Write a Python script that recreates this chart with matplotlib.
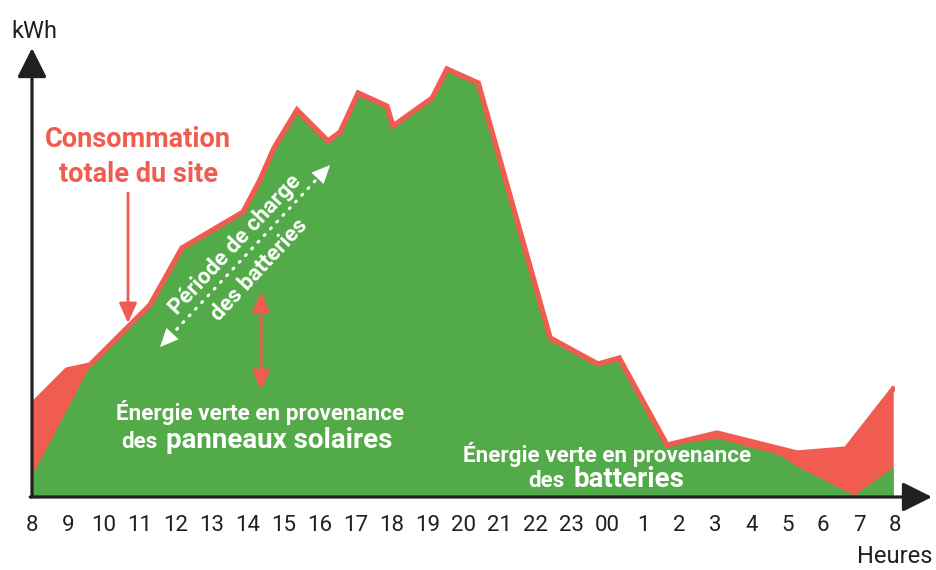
import matplotlib
matplotlib.use("Agg")
import matplotlib.pyplot as plt

plt.rcParams['font.family'] = ['Roboto', 'DejaVu Sans']

GREEN = '#53aa48'
RED = '#f05c50'
INK = '#231f20'

# hour labels, 8h -> 8h next morning
hours = ['8', '9', '10', '11', '12', '13', '14', '15', '16', '17', '18', '19', '20',
         '21', '22', '23', '00', '1', '2', '3', '4', '5', '6', '7', '8']

# total site consumption (x = position in hours from 8h)
conso_x = [0, 0.97, 1.61, 3.28, 4.17, 5.87, 6.34, 6.73, 7.37, 8.23, 8.57, 9.07, 9.87,
           10.04, 11.13, 11.54, 12.41, 14.41, 15.74, 16.33, 17.66, 19.05, 21.28, 22.64, 23.95]
conso_y = [9.2, 12.7, 13.2, 19.2, 24.9, 28.5, 31.7, 34.9, 38.7, 35.6, 36.5, 40.4, 39.1,
           37.1, 39.9, 42.8, 41.4, 15.9, 13.3, 13.9, 5.2, 6.4, 4.4, 4.8, 10.8]

# green energy (solar then batteries); follows consumption in the middle of the day
green_x = [0] + conso_x[2:21] + [19.05, 20.8, 21.31, 22.86, 23.95]
green_y = [2.2] + conso_y[2:21] + [5.9, 4.2, 3.0, 0.2, 3.0]

fig = plt.figure(figsize=(9.36, 5.70), dpi=100)
ax = fig.add_axes([32 / 936, 73 / 570, 863 / 936, 497 / 570])
ax.set_xlim(0, 24)
ax.set_ylim(0, 49.7)
for s in ax.spines.values():
    s.set_visible(False)
ax.set_yticks([])
ax.set_xticks(range(len(hours)))
ax.set_xticklabels(hours, fontsize=16, color=INK)
ax.tick_params(axis='x', length=0, pad=13)

ax.fill_between(conso_x, conso_y, color=RED, lw=0)
ax.fill_between(green_x, green_y, color=GREEN, lw=0)
ax.plot(conso_x, conso_y, color=RED, lw=3.8, solid_joinstyle='miter')

# axes with arrow heads
arrow = dict(arrowstyle='-|>,head_length=1.2,head_width=0.6', lw=2.3, color=INK,
             mutation_scale=15, shrinkA=0, shrinkB=0)
ax.annotate('', xy=(25.03, 0), xytext=(-0.05, 0), arrowprops=arrow, annotation_clip=False)
ax.annotate('', xy=(0, 44.9), xytext=(0, 0), arrowprops=arrow, annotation_clip=False)
ax.text(0.06, 45.9, 'kWh', fontsize=17, color=INK, ha='center', va='baseline')
ax.text(25.03, -6.6, 'Heures', fontsize=17, color=INK, ha='right', va='baseline', clip_on=False)

# consumption label
ax.text(2.95, 35.0, 'Consommation', fontsize=19.5, weight='bold', color=RED, ha='center', va='baseline')
ax.text(2.95, 31.5, 'totale du site', fontsize=19.5, weight='bold', color=RED, ha='center', va='baseline')
ax.annotate('', xy=(2.67, 17.4), xytext=(2.67, 30.4),
            arrowprops=dict(arrowstyle='-|>,head_length=1.0,head_width=0.45', lw=2, color=RED,
                            mutation_scale=12, shrinkA=0, shrinkB=0))
ax.annotate('', xy=(6.37, 10.7), xytext=(6.37, 20.5),
            arrowprops=dict(arrowstyle='<|-|>,head_length=1.0,head_width=0.45', lw=2, color=RED,
                            mutation_scale=12, shrinkA=0, shrinkB=0))

# charging period, dotted double arrow
ax.plot([3.85, 8.0], [16.1, 32.1], color='white', lw=2.2, ls=(0, (0.4, 2.6)),
        dash_capstyle='round')
head = dict(arrowstyle='-|>,head_length=1.1,head_width=0.5', lw=0, color='white',
            mutation_scale=12, shrinkA=0, shrinkB=0)
ax.annotate('', xy=(3.56, 15.0), xytext=(3.9, 16.3), arrowprops=head)
ax.annotate('', xy=(8.29, 33.2), xytext=(7.95, 31.9), arrowprops=head)
ax.text(5.65, 25.2, 'Période de charge', fontsize=16, weight='bold', color='white',
        rotation=47, rotation_mode='anchor', ha='center', va='center')
ax.text(6.31, 22.7, 'des batteries', fontsize=16, weight='bold', color='white',
        rotation=47, rotation_mode='anchor', ha='center', va='center')

# green energy labels
ax.text(6.33, 7.7, 'Énergie verte en provenance', fontsize=16.2, weight='bold', color='white',
        ha='center', va='baseline')
ax.text(3.50, 4.9, 'des', fontsize=16, weight='bold', color='white', ha='right', va='baseline')
ax.text(3.72, 4.9, 'panneaux solaires', fontsize=20, weight='bold', color='white',
        ha='left', va='baseline')
ax.text(16.0, 3.5, 'Énergie verte en provenance', fontsize=16.2, weight='bold', color='white',
        ha='center', va='baseline')
ax.text(14.82, 1.0, 'des', fontsize=16, weight='bold', color='white', ha='right', va='baseline')
ax.text(15.05, 1.0, 'batteries', fontsize=20, weight='bold', color='white', ha='left', va='baseline')

fig.savefig('out.png', dpi=100)
